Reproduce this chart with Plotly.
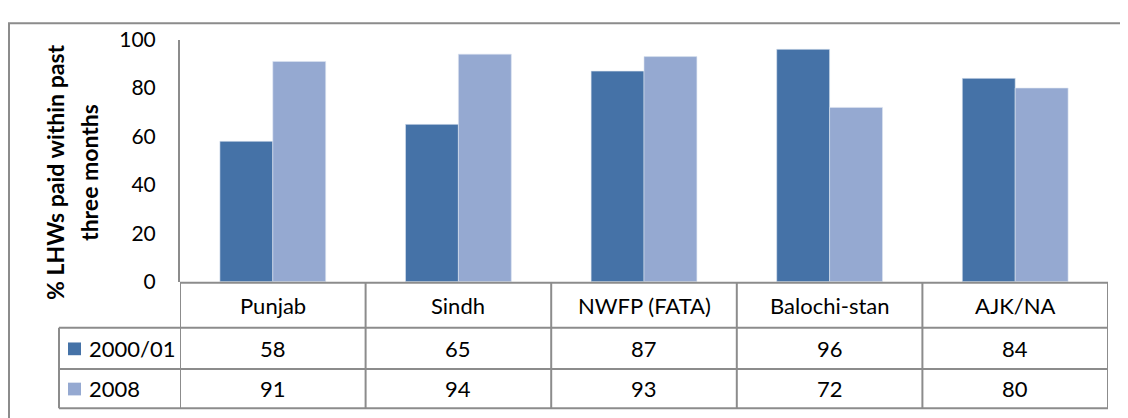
import plotly.graph_objects as go

# data
regions = ["Punjab", "Sindh", "NWFP (FATA)", "Balochi-stan", "AJK/NA"]
series_names = ["2000/01", "2008"]
paid_2000 = [58, 65, 87, 96, 84]
paid_2008 = [91, 94, 93, 72, 80]
y_ticks = [0, 20, 40, 60, 80, 100]

colors = ["#4572A7", "#95A9D1"]
grid = "#8C8C8C"
FONT = "Lato"

W, H = 1128, 418
# where the page ends up in the screenshot (measured with a test grid)
OX, TOP, SPAN = 8, 15, 401


def px(x):
    return (x - OX) / W


def py(y):
    return 1 - (y - TOP) / SPAN


fig = go.Figure()
for name, vals, col in zip(series_names, [paid_2000, paid_2008], colors):
    fig.add_trace(go.Bar(x=regions, y=vals, name=name, marker_color=col,
                         marker_line=dict(color="#DCE4F0", width=0.6),
                         showlegend=False))

# table geometry (reference pixels)
tbl_left, plot_left, plot_right = 59, 180, 1108
row_lines = [281, 327, 369, 409]
row_mid = [(row_lines[i] + row_lines[i + 1]) / 2 for i in range(3)]

shapes = []
# outer chart border
shapes.append(dict(type="rect", xref="paper", yref="paper",
                   x0=px(9), x1=px(1150), y0=py(440), y1=0.997,
                   line=dict(color=grid, width=2)))
# horizontal table lines
for k, yy in enumerate(row_lines):
    x0 = plot_left if k == 0 else tbl_left
    shapes.append(dict(type="line", xref="paper", yref="paper",
                       x0=px(x0), x1=px(plot_right), y0=py(yy), y1=py(yy),
                       line=dict(color=grid, width=2)))
# vertical table lines at category boundaries
for i in range(len(regions) + 1):
    shapes.append(dict(type="line", xref="x", yref="paper",
                       x0=i - 0.5, x1=i - 0.5, y0=py(row_lines[0]), y1=py(row_lines[-1]),
                       line=dict(color=grid, width=2)))
shapes.append(dict(type="line", xref="paper", yref="paper",
                   x0=px(tbl_left), x1=px(tbl_left), y0=py(row_lines[1]), y1=py(row_lines[-1]),
                   line=dict(color=grid, width=2)))

annotations = []
# category row
for cat in regions:
    annotations.append(dict(x=cat, xref="x", y=py(row_mid[0]), yref="paper",
                            text=cat, showarrow=False, xanchor="center", yanchor="middle",
                            font=dict(family=FONT, size=22, color="#000")))
# value rows
for r, vals in enumerate([paid_2000, paid_2008]):
    yc = row_mid[r + 1]
    for cat, v in zip(regions, vals):
        annotations.append(dict(x=cat, xref="x", y=py(yc), yref="paper",
                                text=str(v), showarrow=False, xanchor="center", yanchor="middle",
                                font=dict(family=FONT, size=22, color="#000")))
    # legend key + series name
    shapes.append(dict(type="rect", xref="paper", yref="paper",
                       x0=px(68), x1=px(81), y0=py(yc + 7), y1=py(yc - 6),
                       fillcolor=colors[r], line=dict(width=0)))
    annotations.append(dict(x=px(87), xref="paper", y=py(yc), yref="paper",
                            text=series_names[r], showarrow=False,
                            xanchor="left", yanchor="middle",
                            font=dict(family=FONT, size=22, color="#000")))

# y axis title, two lines
for txt, xc in [("% LHWs paid within past", 55), ("three months", 89)]:
    annotations.append(dict(x=px(xc), xref="paper", y=py(169), yref="paper",
                            text="<b>" + txt + "</b>",
                            textangle=-90, showarrow=False, xanchor="center", yanchor="middle",
                            font=dict(family=FONT, size=23, color="#000")))

fig.update_layout(
    width=W, height=H,
    margin=dict(l=0, r=0, t=0, b=0),
    paper_bgcolor="white", plot_bgcolor="white",
    barmode="group", bargap=0.43, bargroupgap=0,
    xaxis=dict(domain=[px(plot_left), px(plot_right)], range=[-0.5, 4.5],
               showline=False, showgrid=False, ticks="", showticklabels=False),
    yaxis=dict(domain=[py(280), py(33)], range=[0, 100], tickvals=y_ticks,
               showline=True, linecolor=grid, linewidth=2, showgrid=False,
               ticks="", zeroline=False, ticklabelstandoff=18, ticklabeloverflow="allow",
               tickfont=dict(family=FONT, size=21, color="#000")),
    shapes=shapes,
    annotations=annotations,
)

fig.write_html("out.html")
